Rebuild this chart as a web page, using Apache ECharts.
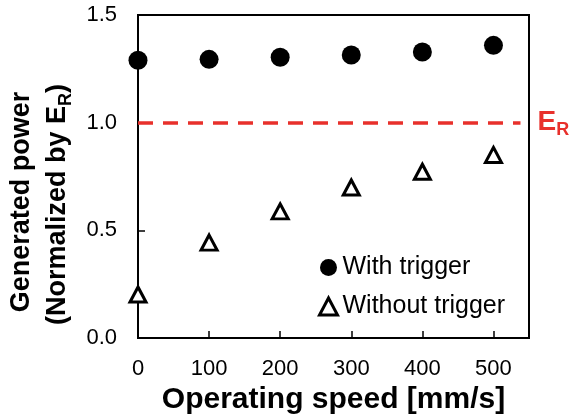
<!DOCTYPE html>
<html>
<head>
<meta charset="utf-8">
<script src="https://cdn.jsdelivr.net/npm/echarts@6/dist/echarts.min.js"></script>
<style>
  html, body { margin: 0; padding: 0; background: #fff; }
  #chart { width: 571px; height: 420px; }
</style>
</head>
<body>
<div id="chart"></div>
<script>
// operating speed [mm/s]
const speeds = [0, 100, 200, 300, 400, 500]
// generated power normalized by E_R
const withTrigger = [1.29, 1.294, 1.304, 1.314, 1.328, 1.359]
const withoutTrigger = [0.202, 0.443, 0.588, 0.699, 0.772, 0.85]
// reference level E_R, dashed line runs from x=0 to x=538
const erLevel = 1.0
const erLineEnd = 538

const font = "'Liberation Sans', Arial, sans-serif"
const red = '#e8302b'

const chart = echarts.init(document.getElementById('chart'))

chart.setOption({
  backgroundColor: '#fff',
  animation: false,
  textStyle: { fontFamily: font },
  grid: {
    left: 138,
    top: 15,
    right: 42,
    bottom: 82,
    show: true,
    borderColor: '#000',
    borderWidth: 2,
    outerBoundsMode: 'none'
  },
  legend: {
    orient: 'vertical',
    left: 318,
    top: 255,
    padding: 0,
    itemGap: 14,
    itemWidth: 18,
    itemHeight: 17,
    textStyle: { fontSize: 25, color: '#000', fontFamily: font },
    data: [
      { name: 'With trigger', icon: 'circle' },
      {
        name: 'Without trigger',
        icon: 'triangle',
        itemStyle: { color: '#fff', borderColor: '#000', borderWidth: 3 }
      }
    ]
  },
  xAxis: {
    type: 'value',
    min: 0,
    max: 550,
    interval: 100,
    name: 'Operating speed [mm/s]',
    nameLocation: 'middle',
    nameGap: 45,
    nameTextStyle: { fontSize: 30, fontWeight: 'bold', color: '#000', fontFamily: font },
    axisLine: { lineStyle: { color: '#000', width: 2 } },
    axisTick: { inside: true, length: 7, lineStyle: { color: '#000', width: 1.5 } },
    axisLabel: { fontSize: 22, color: '#000', margin: 20, showMaxLabel: false, fontFamily: font },
    splitLine: { show: false }
  },
  yAxis: {
    type: 'value',
    min: 0,
    max: 1.5,
    interval: 0.5,
    name: '{g|Generated power}\n{a|(Normalized by E}{s|R}{p|)}',
    nameLocation: 'middle',
    nameRotate: 90,
    nameGap: 60,
    nameTextStyle: {
      color: '#000',
      fontFamily: font,
      rich: {
        g: { fontSize: 27, fontWeight: 'bold', lineHeight: 36, color: '#000', padding: [0, 51, 0, 0] },
        a: { fontSize: 27, fontWeight: 'bold', lineHeight: 36, color: '#000' },
        s: { fontSize: 18, fontWeight: 'bold', color: '#000', verticalAlign: 'bottom' },
        p: { fontSize: 27, fontWeight: 'bold', lineHeight: 36, color: '#000', padding: [0, 56, 0, 0] }
      }
    },
    axisLine: { lineStyle: { color: '#000', width: 2 } },
    axisTick: { inside: true, length: 7, lineStyle: { color: '#000', width: 1.5 } },
    axisLabel: {
      fontSize: 22,
      color: '#000',
      margin: 21,
      fontFamily: font,
      formatter: v => v.toFixed(1)
    },
    splitLine: { show: false }
  },
  series: [
    {
      name: 'With trigger',
      type: 'scatter',
      clip: false,
      symbol: 'circle',
      symbolSize: 19,
      itemStyle: { color: '#000', opacity: 1 },
      data: speeds.map((s, i) => [s, withTrigger[i]]),
      markLine: {
        silent: true,
        symbol: ['none', 'none'],
        lineStyle: { color: red, width: 3.5, type: [15, 10], opacity: 1 },
        label: {
          show: true,
          position: 'end',
          distance: 17,
          formatter: '{e|E}{r|R}',
          rich: {
            e: { fontSize: 28, fontWeight: 'bold', color: red, lineHeight: 32, fontFamily: font },
            r: { fontSize: 18, fontWeight: 'bold', color: red, verticalAlign: 'bottom', fontFamily: font }
          }
        },
        data: [[{ coord: [0, erLevel] }, { coord: [erLineEnd, erLevel] }]]
      }
    },
    {
      name: 'Without trigger',
      type: 'scatter',
      clip: false,
      symbol: 'triangle',
      symbolSize: [16, 15],
      itemStyle: { color: '#fff', borderColor: '#000', borderWidth: 3, opacity: 1 },
      data: speeds.map((s, i) => [s, withoutTrigger[i]])
    }
  ]
})
</script>
</body>
</html>
